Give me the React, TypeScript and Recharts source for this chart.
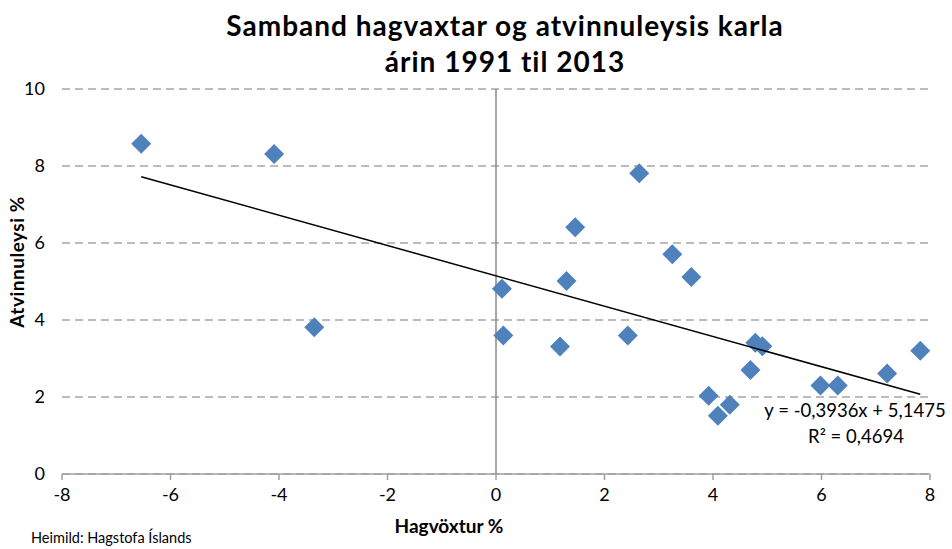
import React from "react";
import {
  ScatterChart,
  Scatter,
  XAxis,
  YAxis,
  CartesianGrid,
  ReferenceLine,
} from "recharts";

// Hagvöxtur % (x) and atvinnuleysi karla % (y), 1991–2013
const growth = [
  -6.54, -4.09, -3.35, 0.11, 0.135, 1.18, 1.3, 1.46, 2.43, 2.64, 3.25,
  3.6, 4.78, 4.91, 4.69, 3.92, 4.31, 4.09, 5.98, 6.3, 7.21, 7.82,
];
const unemployment = [
  8.58, 8.31, 3.81, 4.81, 3.6, 3.31, 5.01, 6.41, 3.6, 7.81, 5.71,
  5.12, 3.41, 3.32, 2.7, 2.03, 1.8, 1.51, 2.3, 2.3, 2.61, 3.2,
];
const xTicks = [-8, -6, -4, -2, 0, 2, 4, 6, 8];
const yTicks = [0, 2, 4, 6, 8, 10];

const slope = -0.3936;
const intercept = 5.1475;

const points = growth.map((x, i) => ({ x, y: unemployment[i] }));
const xMin = Math.min(...growth);
const xMax = Math.max(...growth);
const trend = [
  { x: xMin, y: slope * xMin + intercept },
  { x: xMax, y: slope * xMax + intercept },
];

const FONT = "Lato, 'Open Sans', sans-serif";

const Diamond = (props: any) => {
  const { cx, cy } = props;
  const r = 10;
  return (
    <polygon
      points={`${cx},${cy - r} ${cx + r},${cy} ${cx},${cy + r} ${cx - r},${cy}`}
      fill="#4F81BD"
    />
  );
};

export default function App() {
  return (
    <div style={{ position: "absolute", left: 0, top: 0, width: 952, height: 549, background: "#fff", fontFamily: FONT }}>
      <ScatterChart width={952} height={549} margin={{ top: 89, right: 22, bottom: 35, left: 0 }}>
        <CartesianGrid vertical={false} stroke="#A6A6A6" strokeWidth={1.5} strokeDasharray="8 5" />
        <XAxis
          type="number"
          dataKey="x"
          domain={[-8, 8]}
          ticks={xTicks}
          height={40}
          axisLine={{ stroke: "#A0A0A0", strokeWidth: 1.5 }}
          tickLine={{ stroke: "#A0A0A0", strokeWidth: 1.5 }}
          tickSize={6}
          tickMargin={8}
          tick={{ fontSize: 18, fill: "#000", fontFamily: FONT }}
        />
        <YAxis
          type="number"
          dataKey="y"
          domain={[0, 10]}
          ticks={yTicks}
          width={62}
          axisLine={false}
          tickLine={false}
          tickMargin={11}
          tick={{ fontSize: 18, fill: "#000", fontFamily: FONT }}
        />
        <ReferenceLine x={0} stroke="#888888" strokeWidth={1.5} />
        <Scatter data={points} shape={<Diamond />} isAnimationActive={false} />
        <Scatter
          data={trend}
          line={{ stroke: "#000", strokeWidth: 1.5 }}
          shape={() => <g />}
          isAnimationActive={false}
        />
        <text x={505} y={36} textAnchor="middle" fontSize={28} letterSpacing={1} fontWeight="bold" fontFamily={FONT} fill="#000">
          Samband hagvaxtar og atvinnuleysis karla
        </text>
        <text x={505} y={72} textAnchor="middle" fontSize={28} letterSpacing={1} fontWeight="bold" fontFamily={FONT} fill="#000">
          árin 1991 til 2013
        </text>
        <text
          x={24}
          y={262}
          textAnchor="middle"
          fontSize={19}
          letterSpacing={0.5}
          fontWeight="bold"
          fontFamily={FONT}
          fill="#000"
          transform="rotate(-90 24 262)"
        >
          Atvinnuleysi %
        </text>
        <text x={449} y={533} textAnchor="middle" fontSize={19} fontWeight="bold" fontFamily={FONT} fill="#000">
          Hagvöxtur %
        </text>
        <text x={31} y={543} fontSize={14.5} fontFamily={FONT} fill="#000">
          Heimild: Hagstofa Íslands
        </text>
        <text x={855} y={417} textAnchor="middle" fontSize={18.5} fontFamily={FONT} fill="#000">
          y = -0,3936x + 5,1475
        </text>
        <text x={856} y={443} textAnchor="middle" fontSize={18.5} fontFamily={FONT} fill="#000">
          R² = 0,4694
        </text>
      </ScatterChart>
    </div>
  );
}
